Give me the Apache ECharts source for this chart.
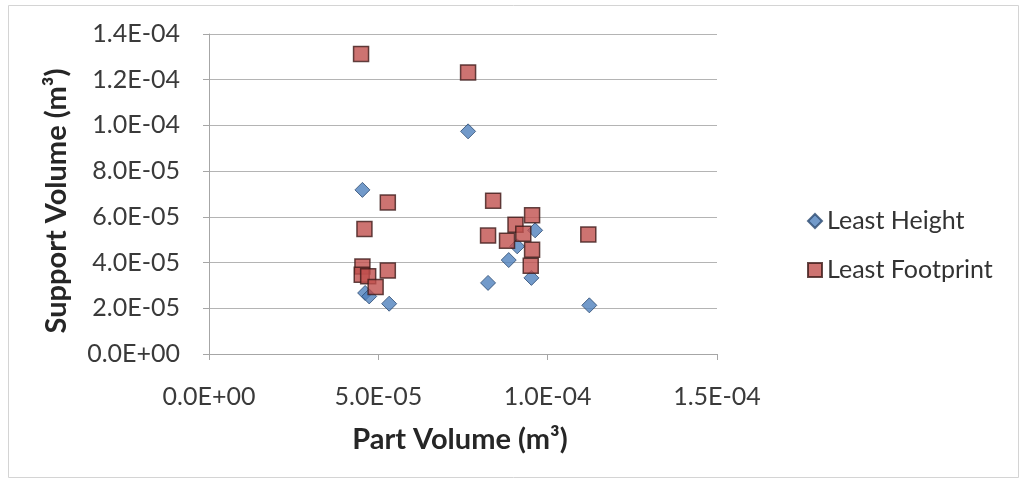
<!DOCTYPE html>
<html>
<head>
<meta charset="utf-8">
<script src="https://cdn.jsdelivr.net/npm/echarts@6/dist/echarts.min.js"></script>
<style>
  html, body { margin: 0; padding: 0; background: #ffffff; }
  #chart { width: 1025px; height: 482px; }
</style>
</head>
<body>
<div id="chart"></div>
<script>
// Part volume vs support volume for two build orientations (m^3)
const leastHeightX = [4.53e-5, 4.61e-5, 4.73e-5, 5.32e-5, 7.65e-5, 9.63e-5, 9.10e-5, 8.85e-5, 8.24e-5, 9.52e-5, 1.123e-4];
const leastHeightY = [7.18e-5, 2.67e-5, 2.52e-5, 2.20e-5, 9.74e-5, 5.41e-5, 4.71e-5, 4.11e-5, 3.11e-5, 3.33e-5, 2.13e-5];

const leastFootprintX = [4.49e-5, 7.65e-5, 5.28e-5, 4.59e-5, 4.53e-5, 4.51e-5, 4.70e-5, 5.28e-5, 4.92e-5, 8.39e-5, 9.54e-5, 9.05e-5, 8.24e-5, 9.28e-5, 8.80e-5, 9.54e-5, 9.50e-5, 1.12e-4];
const leastFootprintY = [1.313e-4, 1.232e-4, 6.63e-5, 5.47e-5, 3.83e-5, 3.47e-5, 3.40e-5, 3.65e-5, 2.93e-5, 6.71e-5, 6.07e-5, 5.66e-5, 5.18e-5, 5.26e-5, 4.96e-5, 4.56e-5, 3.86e-5, 5.23e-5];

const seriesNames = ['Least Height', 'Least Footprint'];
const xTicks = { min: 0, max: 1.5e-4, step: 5e-5 };
const yTicks = { min: 0, max: 1.4e-4, step: 2e-5 };

// Excel-style scientific labels: 1.4E-04, 0.0E+00
function sci(v) {
  if (Math.abs(v) < 1e-15) return '0.0E+00';
  const parts = v.toExponential(1).split('e');
  const exp = parseInt(parts[1], 10);
  const sign = exp < 0 ? '-' : '+';
  return parts[0] + 'E' + sign + String(Math.abs(exp)).padStart(2, '0');
}

function pairs(xs, ys) { return xs.map((x, i) => [x, ys[i]]); }

const FONT = 'Lato';
const chart = echarts.init(document.getElementById('chart'), null, { renderer: 'canvas' });

chart.setOption({
  backgroundColor: '#ffffff',
  animation: false,
  graphic: [{
    type: 'rect',
    shape: { x: 8.5, y: 5.5, width: 1010, height: 472 },
    style: { fill: 'none', stroke: '#d4d4d4', lineWidth: 1 },
    silent: true
  }],
  grid: { left: 209, right: 308, top: 34, bottom: 128, containLabel: false },
  legend: {
    orient: 'vertical',
    left: 802,
    top: 203,
    itemGap: 23,
    itemWidth: 14,
    itemHeight: 14,
    textStyle: { fontFamily: FONT, fontSize: 25, lineHeight: 26, color: '#333333' },
    data: [
      { name: seriesNames[0], icon: 'diamond' },
      { name: seriesNames[1], icon: 'rect' }
    ]
  },
  xAxis: {
    type: 'value',
    min: xTicks.min, max: xTicks.max, interval: xTicks.step,
    name: 'Part Volume (m³)',
    nameLocation: 'middle',
    nameGap: 71,
    nameTextStyle: { fontFamily: FONT, fontSize: 29, fontWeight: 'bold', color: '#262626', padding: [0, 6, 0, 0] },
    axisLine: { show: true, lineStyle: { color: '#a6a6a6', width: 1 } },
    axisTick: { show: true, length: 6, lineStyle: { color: '#a6a6a6' } },
    axisLabel: { fontFamily: FONT, fontSize: 25, color: '#3a3a3a', margin: 30, formatter: sci },
    splitLine: { show: false }
  },
  yAxis: {
    type: 'value',
    min: yTicks.min, max: yTicks.max, interval: yTicks.step,
    name: 'Support Volume (m³)',
    nameLocation: 'middle',
    nameGap: 138,
    nameTextStyle: { fontFamily: FONT, fontSize: 29, fontWeight: 'bold', color: '#262626', padding: [0, 14, 0, 0] },
    axisLine: { show: true, lineStyle: { color: '#a6a6a6', width: 1 } },
    axisTick: { show: true, length: 6, lineStyle: { color: '#a6a6a6' } },
    axisLabel: { fontFamily: FONT, fontSize: 25, color: '#3a3a3a', margin: 29, formatter: sci },
    splitLine: { show: true, lineStyle: { color: '#b4b4b4', width: 1 } }
  },
  series: [
    {
      name: seriesNames[0],
      type: 'scatter',
      symbol: 'diamond',
      symbolSize: 15,
      itemStyle: { color: '#4f81bd', borderColor: '#2c4a70', borderWidth: 1 },
      data: pairs(leastHeightX, leastHeightY),
      z: 2
    },
    {
      name: seriesNames[1],
      type: 'scatter',
      symbol: 'rect',
      symbolSize: 15,
      itemStyle: { color: '#c0504d', borderColor: '#3d1a19', borderWidth: 1.5 },
      data: pairs(leastFootprintX, leastFootprintY),
      z: 3
    }
  ]
});
</script>
</body>
</html>
